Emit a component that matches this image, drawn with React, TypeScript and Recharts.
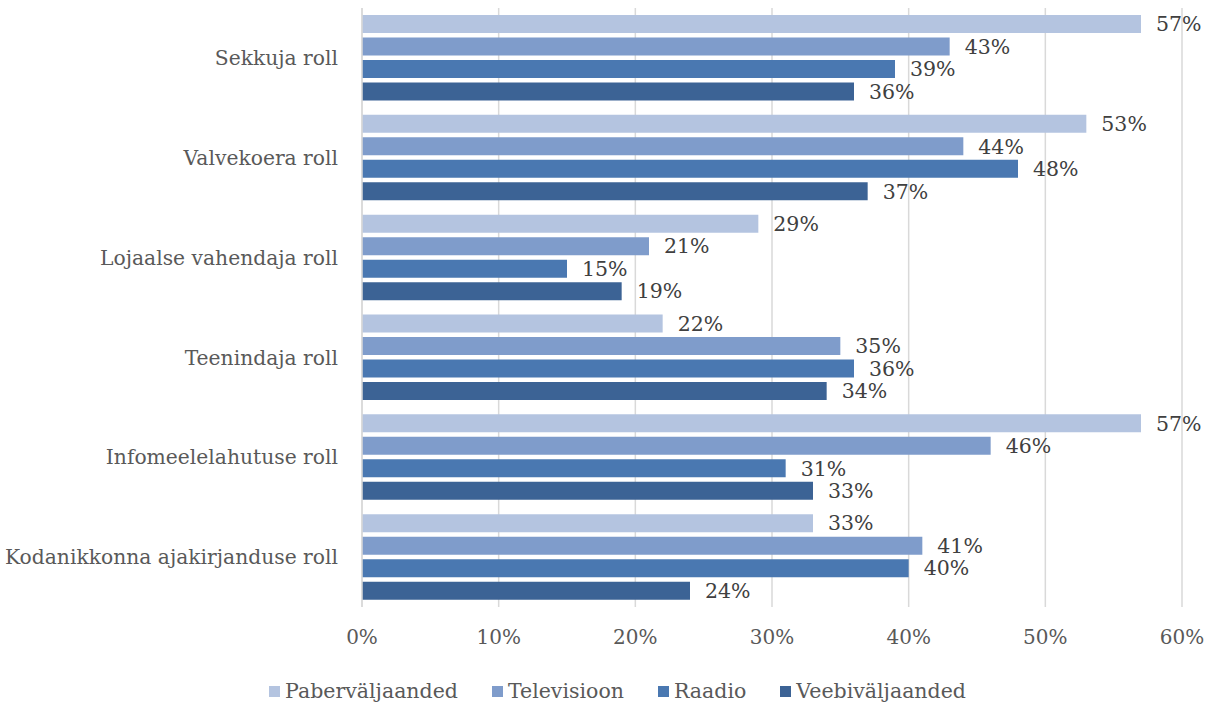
import React from 'react';
import { BarChart, Bar, XAxis, YAxis, CartesianGrid, LabelList, Legend } from 'recharts';

const roles = [
  'Sekkuja roll',
  'Valvekoera roll',
  'Lojaalse vahendaja roll',
  'Teenindaja roll',
  'Infomeelelahutuse roll',
  'Kodanikkonna ajakirjanduse roll',
];

const paber = [57, 53, 29, 22, 57, 33];
const televisioon = [43, 44, 21, 35, 46, 41];
const raadio = [39, 48, 15, 36, 31, 40];
const veeb = [36, 37, 19, 34, 33, 24];

const xTicks = [0, 10, 20, 30, 40, 50, 60];

const series = [
  { key: 'paber', name: 'Paberväljaanded', color: '#b4c4e0' },
  { key: 'tv', name: 'Televisioon', color: '#7f9ccb' },
  { key: 'raadio', name: 'Raadio', color: '#4a78b1' },
  { key: 'veeb', name: 'Veebiväljaanded', color: '#3c6395' },
];

const data = roles.map((name, i) => ({
  name,
  paber: paber[i],
  tv: televisioon[i],
  raadio: raadio[i],
  veeb: veeb[i],
}));

const FONT = '"DejaVu Serif", serif';

const LegendBox = () => (
  <div
    style={{
      display: 'flex',
      justifyContent: 'center',
      gap: 34,
      paddingTop: 22,
      paddingLeft: 53,
      fontFamily: FONT,
      fontSize: 20.5,
      color: '#595959',
    }}
  >
    {series.map((s) => (
      <div key={s.key} style={{ display: 'flex', alignItems: 'center' }}>
        <span style={{ display: 'inline-block', width: 11, height: 11, background: s.color, marginRight: 5 }} />
        <span>{s.name}</span>
      </div>
    ))}
  </div>
);

export default function App() {
  return (
    <div style={{ position: 'absolute', left: 0, top: 0, background: '#fff' }}>
      <BarChart
        width={1214}
        height={703}
        data={data}
        layout="vertical"
        margin={{ top: 8, right: 32, bottom: 0, left: 0 }}
        barSize={18}
        barGap={4.5}
      >
        <CartesianGrid horizontal={false} stroke="#d9d9d9" strokeWidth={1.5} />
        <XAxis
          type="number"
          domain={[0, 60]}
          ticks={xTicks}
          tickFormatter={(v) => `${v}%`}
          axisLine={false}
          tickLine={false}
          tickSize={0}
          tickMargin={23}
          height={50}
          tick={{ fill: '#595959', fontSize: 20, fontFamily: FONT }}
        />
        <YAxis
          type="category"
          dataKey="name"
          width={362}
          axisLine={{ stroke: '#d9d9d9', strokeWidth: 1.5 }}
          tickLine={false}
          tickSize={0}
          tickMargin={24}
          tick={{ fill: '#595959', fontSize: 20.3, fontFamily: FONT }}
        />
        <Legend verticalAlign="bottom" height={46} content={<LegendBox />} />
        {series.map((s) => (
          <Bar key={s.key} dataKey={s.key} name={s.name} fill={s.color} isAnimationActive={false}>
            <LabelList
              dataKey={s.key}
              position="right"
              offset={15}
              formatter={(v: number) => `${v}%`}
              style={{ fill: '#404040', fontSize: 20.5, fontFamily: FONT }}
            />
          </Bar>
        ))}
      </BarChart>
    </div>
  );
}
